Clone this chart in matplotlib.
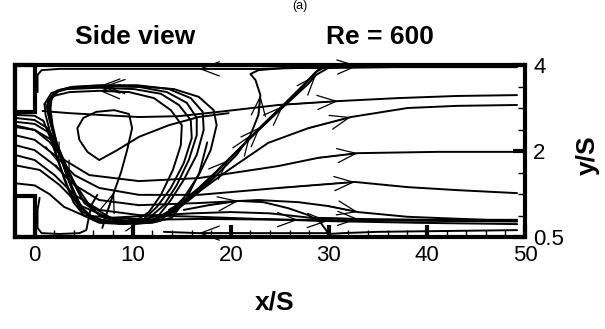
import matplotlib
matplotlib.use("Agg")
import matplotlib.pyplot as plt
from matplotlib.ticker import MultipleLocator
from matplotlib.patches import Rectangle

plt.rcParams['font.family'] = ['Liberation Sans', 'DejaVu Sans']

t1_x = [0.81, 3.55, 6.59, 10.65, 14.71, 18.76, 24.85, 30.93, 37.02, 43.10, 49.19]
t1_y = [2.93, 2.88, 2.84, 2.79, 2.81, 2.91, 3.07, 3.16, 3.23, 3.28, 3.30]
t2_x = [13.69, 16.73, 19.78, 23.83, 27.89, 32.25, 38.03, 43.10, 49.19]
t2_y = [0.63, 1.05, 1.56, 2.19, 2.53, 2.79, 3.00, 3.05, 3.07]
t3_x = [-2.03, 0, 1.52, 3.04, 5.58, 10.65, 16.73, 20.79, 24.85, 28.90, 32.96, 41.08, 49.19]
t3_y = [2.60, 2.49, 2.21, 1.79, 1.44, 1.30, 1.37, 1.51, 1.65, 1.84, 1.95, 1.98, 1.98]
t4_x = [-2.03, 0, 2.03, 4.06, 6.59, 10.65, 16.73, 24.85, 32.66, 38.03, 43.10, 49.19]
t4_y = [2.37, 2.26, 1.91, 1.44, 1.14, 0.98, 0.98, 1.14, 1.28, 1.16, 1.09, 1.02]
t5_x = [-2.03, 0, 2.03, 4.06, 6.59, 10.65, 16.73, 22.82, 26.88, 29.92, 32.96, 38.03, 49.19]
t5_y = [2.14, 2.02, 1.67, 1.21, 0.86, 0.74, 0.79, 0.86, 0.81, 0.72, 0.58, 0.47, 0.37]
t6_x = [-2.03, 0, 2.03, 4.06, 6.59, 10.65, 16.73, 22.82, 29.92, 39.05, 49.19]
t6_y = [1.91, 1.79, 1.44, 0.98, 0.63, 0.51, 0.47, 0.42, 0.37, 0.33, 0.30]
t7_x = [-2.03, 0.51, 2.54, 4.56, 7.61, 11.66, 16.73, 26.88, 37.02, 49.19]
t7_y = [1.67, 1.56, 1.21, 0.74, 0.44, 0.40, 0.42, 0.40, 0.38, 0.36]
t8_x = [-2.03, 0, 1.5, 3.0, 5.0, 8.0, 12.0, 16.0, 20.0, 24.0, 28.0, 33.0, 40.0, 49.19]
t8_y = [1.25, 1.20, 1.00, 0.70, 0.50, 0.45, 0.50, 0.55, 0.58, 0.55, 0.45, 0.42, 0.40, 0.40]

b1_x = [-2.03, 0, 1.32, 2.33, 3.35, 4.77, 6.59, 9.63, 12.17, 14.20, 16.73, 19.78, 22.82,
        25.35, 27.38, 28.40, 29.11, 32.96, 41.08, 49.19]
b1_y = [2.77, 2.72, 2.53, 2.14, 1.56, 0.91, 0.51, 0.35, 0.40, 0.67, 1.14, 1.79, 2.49,
        3.05, 3.51, 3.77, 3.93, 3.98, 3.98, 3.98]
b2_x = [-2.03, 0, 1.52, 2.54, 3.55, 5.07, 7.10, 10.14, 12.68, 14.71, 17.24, 20.28, 23.02,
        25.66, 27.69, 28.70, 29.41, 26.88, 22.82, 16.73, 8.62, 2.54, 0.71, 0.30, 0.30]
b2_y = [2.68, 2.63, 2.42, 2.02, 1.44, 0.79, 0.44, 0.30, 0.37, 0.70, 1.21, 1.91, 2.56,
        3.14, 3.60, 3.84, 3.93, 3.93, 3.91, 3.91, 3.91, 3.91, 3.88, 3.77, 3.37]
b3_x = [-2.03, 0, 1.72, 2.84, 4.06, 5.58, 8.11, 11.16, 13.18, 15.72, 18.26, 20.59, 22.01,
        22.82, 23.02, 22.52, 22.01, 22.82, 25.35, 27.38]
b3_y = [2.56, 2.49, 2.26, 1.84, 1.26, 0.74, 0.40, 0.33, 0.49, 0.86, 1.37, 1.91, 2.37,
        2.84, 3.30, 3.65, 3.79, 3.88, 3.93, 3.93]
b4_x = [11.66, 14.20, 16.63, 18.97, 21.81, 24.34, 26.47, 27.89, 28.70, 29.92, 37.02, 49.19]
b4_y = [0.35, 0.58, 1.02, 1.63, 2.26, 2.81, 3.26, 3.56, 3.77, 3.93, 3.95, 3.95]
b5_x = [-2.03, 0, 0.9, 1.6, 2.5, 3.5, 4.8, 6.5, 9.0, 12.0, 14.0, 15.5, 16.8, 17.6]
b5_y = [2.84, 2.82, 2.70, 2.30, 1.70, 1.10, 0.60, 0.38, 0.30, 0.33, 0.45, 0.90, 1.50, 2.20]

# recirculation loops behind the step
l1_x = [1.32, 1.42, 1.93, 2.74, 3.75, 4.77, 6.09, 8.62, 11.66, 13.69, 15.21, 16.73, 17.95,
        18.56, 18.26, 16.73, 14.20, 10.65, 6.59, 3.55, 2.03, 1.32]
l1_y = [3.14, 2.84, 2.37, 1.79, 1.21, 0.67, 0.40, 0.33, 0.37, 0.56, 0.91, 1.44, 2.02,
        2.60, 2.95, 3.26, 3.44, 3.51, 3.51, 3.47, 3.37, 3.14]
l2_x = [1.52, 1.52, 1.93, 2.64, 3.55, 4.56, 5.88, 8.11, 10.85, 12.68, 13.89, 15.21, 16.53,
        17.24, 17.14, 15.92, 13.69, 10.45, 6.59, 3.75, 2.23, 1.52]
l2_y = [3.19, 2.91, 2.44, 1.86, 1.28, 0.74, 0.44, 0.35, 0.37, 0.51, 0.86, 1.33, 1.91,
        2.49, 2.91, 3.23, 3.44, 3.53, 3.53, 3.49, 3.40, 3.19]
l3_x = [1.72, 1.62, 1.83, 2.43, 3.25, 4.16, 5.38, 7.10, 9.63, 11.66, 13.18, 14.50, 15.72,
        16.53, 16.53, 15.52, 13.49, 10.65, 7.10, 4.06, 2.54, 1.72]
l3_y = [3.21, 2.98, 2.60, 2.02, 1.44, 0.91, 0.53, 0.37, 0.35, 0.44, 0.74, 1.21, 1.79,
        2.37, 2.77, 3.12, 3.37, 3.49, 3.51, 3.49, 3.42, 3.21]
l4_x = [1.01, 1.12, 1.52, 2.23, 3.04, 3.96, 5.07, 6.59, 9.13, 11.16, 12.47, 13.89, 15.21,
        16.02, 15.92, 14.71, 12.88, 10.14, 6.59, 3.35, 1.72, 1.01]
l4_y = [3.09, 2.84, 2.49, 1.91, 1.33, 0.81, 0.49, 0.33, 0.30, 0.42, 0.70, 1.14, 1.72,
        2.30, 2.72, 3.07, 3.33, 3.44, 3.47, 3.44, 3.35, 3.09]
l5_x = [1.22, 1.52, 2.13, 2.94, 3.85, 4.87, 6.09, 8.11, 10.45, 11.66, 12.88, 14.10, 14.91,
        15.01, 13.89, 12.17, 9.63, 6.59, 3.55, 1.93, 1.22]
l5_y = [3.05, 2.72, 2.26, 1.67, 1.09, 0.67, 0.42, 0.33, 0.40, 0.58, 0.98, 1.56, 2.14,
        2.60, 2.95, 3.23, 3.37, 3.40, 3.37, 3.28, 3.05]
s1_x = [6.90, 7.40, 8.11, 8.82, 9.43, 9.94, 9.63, 8.11, 6.29, 4.97, 4.36, 4.56, 5.38, 6.59,
        8.42, 10.65, 13.69, 16.73, 19.78]
s1_y = [0.21, 0.58, 1.05, 1.51, 2.02, 2.53, 2.86, 2.95, 2.91, 2.77, 2.53, 2.26, 1.98, 1.79,
        2.02, 2.33, 2.60, 2.79, 2.88]

# corner and bottom bubble lines
c1_x = [0.51, 0.30, 0.30, 0.71, 2.54, 4.56, 5.27, 5.48, 5.78, 6.39]
c1_y = [0.91, 0.63, 0.21, 0.09, 0.07, 0.09, 0.16, 0.40, 0.74, 0.98]
d1_x = [15.21, 17.75, 20.79, 23.33, 25.86, 27.89, 29.11, 29.72, 29.92]
d1_y = [0.63, 0.74, 0.84, 0.81, 0.67, 0.51, 0.35, 0.16, 0.07]
d2_x = [29.92, 26.88, 21.81, 16.73, 13.18]
d2_y = [0.09, 0.09, 0.09, 0.09, 0.12]
d3_x = [29.92, 31.44, 34.99, 42.09, 49.19]
d3_y = [0.07, 0.09, 0.12, 0.14, 0.16]

# (x, y, indices of points that carry an arrow head)
lines = [
    (t1_x, t1_y, [7]), (t2_x, t2_y, [5]), (t3_x, t3_y, [10]), (t4_x, t4_y, [8]),
    (t5_x, t5_y, [10]), (t6_x, t6_y, [8]), (t7_x, t7_y, [7]), (t8_x, t8_y, [11]),
    (b1_x, b1_y, [11, 13, 17]), (b2_x, b2_y, [12, 19]), (b3_x, b3_y, [12, 14]),
    (b4_x, b4_y, [8]), (b5_x, b5_y, [4]),
    (l1_x, l1_y, [18]), (l2_x, l2_y, [4]), (l3_x, l3_y, [18]), (l4_x, l4_y, [9]),
    (l5_x, l5_y, [17]), (s1_x, s1_y, [2]),
    (c1_x, c1_y, []), (d1_x, d1_y, [2]), (d2_x, d2_y, [3]), (d3_x, d3_y, []),
]

fig = plt.figure(figsize=(6.05, 3.29), dpi=100)
ax = fig.add_axes([15 / 605, 92 / 329, 510 / 605, 172 / 329])

for xs, ys, arrows in lines:
    ax.plot(xs, ys, color='black', lw=1.4, solid_capstyle='round')
    for i in arrows:
        ax.annotate('', xy=(xs[i], ys[i]), xytext=(xs[i - 1], ys[i - 1]),
                    arrowprops=dict(arrowstyle='->,head_length=0.8,head_width=0.3',
                                    color='black', lw=0.9, shrinkA=0, shrinkB=0,
                                    mutation_scale=17))

# step walls on the inlet side
for y0, h in [(2.9, 1.1), (0.0, 0.95)]:
    ax.add_patch(Rectangle((-2, y0), 2, h, facecolor='white', edgecolor='black',
                           lw=3, zorder=5, clip_on=False))

ax.set_xlim(-2, 50)
ax.set_ylim(0, 4)
for s in ax.spines.values():
    s.set_linewidth(3)
    s.set_zorder(6)

ax.set_xticks([0, 10, 20, 30, 40, 50])
ax.xaxis.set_minor_locator(MultipleLocator(2))
ax.yaxis.tick_right()
ax.set_yticks([0, 2, 4])
ax.set_yticklabels(['0.5', '2', '4'])
ax.yaxis.set_minor_locator(MultipleLocator(0.5))
ax.tick_params(which='major', direction='in', length=9, width=3, labelsize=16, pad=6)
ax.tick_params(which='minor', direction='in', length=5, width=1)
ax.tick_params(axis='y', which='both', left=False, right=True)
ax.tick_params(axis='x', which='both', top=False, bottom=True)

fig.text(300 / 605, 0.999, '(a)', ha='center', va='top', fontsize=9)
fig.text(135 / 605, 1 - 37 / 329, 'Side view', ha='center', va='center',
         fontsize=19, weight='bold')
fig.text(380 / 605, 1 - 37 / 329, 'Re = 600', ha='center', va='center',
         fontsize=19, weight='bold')
fig.text(275 / 605, 1 - 303 / 329, 'x/S', ha='center', va='center',
         fontsize=19, weight='bold')
fig.text(588 / 605, 1 - 155 / 329, 'y/S', ha='center', va='center',
         fontsize=19, weight='bold', rotation=90)

fig.savefig('out.png', dpi=100)
